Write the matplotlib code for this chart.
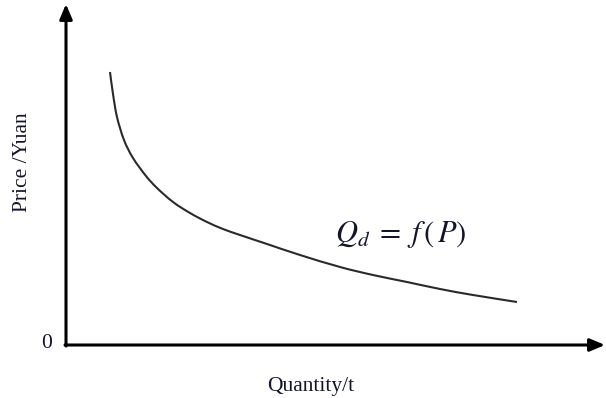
import matplotlib
matplotlib.use("Agg")
import matplotlib.pyplot as plt
from matplotlib.path import Path
from matplotlib.patches import PathPatch

# Demand curve: quantity vs price (arbitrary units, origin at 0)
quantity = [44, 47, 51, 58, 67, 80, 91, 107, 124, 141, 157, 174, 201, 234,
            274, 307, 341, 374, 407, 451]
price = [273, 251, 228, 205, 187, 169, 157, 143, 132, 123, 116, 110, 101, 90,
         78, 70, 63, 56, 50, 43]

x_label = "Quantity/t"
y_label = "Price /Yuan"
origin_label = "0"
curve_label = r"$Q_d\;=\;f\,\left(\,P\right)$"

plt.rcParams["font.family"] = ["Liberation Serif", "DejaVu Serif"]
plt.rcParams["mathtext.fontset"] = "stix"


def smooth_path(xs, ys, tension=1 / 6):
    """Catmull-Rom style cubic Bezier path through the given points."""
    pts = list(zip(xs, ys))
    verts = [pts[0]]
    codes = [Path.MOVETO]
    n = len(pts)
    for i in range(n - 1):
        p0 = pts[i - 1] if i > 0 else pts[i]
        p1 = pts[i]
        p2 = pts[i + 1]
        p3 = pts[i + 2] if i + 2 < n else pts[i + 1]
        c1 = (p1[0] + (p2[0] - p0[0]) * tension, p1[1] + (p2[1] - p0[1]) * tension)
        c2 = (p2[0] - (p3[0] - p1[0]) * tension, p2[1] - (p3[1] - p1[1]) * tension)
        verts += [c1, c2, p2]
        codes += [Path.CURVE4] * 3
    return Path(verts, codes)


fig = plt.figure(figsize=(6.06, 3.98), dpi=100)
ax = fig.add_axes([0, 0, 1, 1])
ax.set_xlim(-66, 540)
ax.set_ylim(-53, 345)
ax.axis("off")

text_color = "#15152a"

# Axes with arrowheads
arrow_kw = dict(arrowstyle="-|>,head_length=0.9,head_width=0.38",
                color="black", lw=2.2, shrinkA=0, shrinkB=0)
ax.annotate("", xy=(539, 0), xytext=(-1, 0), arrowprops=arrow_kw)
ax.annotate("", xy=(0, 341), xytext=(0, -1), arrowprops=arrow_kw)

# Demand curve
ax.add_patch(PathPatch(smooth_path(quantity, price), facecolor="none",
                       edgecolor="#2a2a2a", lw=1.5, capstyle="butt",
                       joinstyle="round"))

ax.text(335, 110, curve_label, fontsize=22, color=text_color,
        ha="center", va="center")
ax.text(-19, 2, origin_label, fontsize=15.5, color=text_color,
        ha="center", va="center")
ax.text(245, -42, x_label, fontsize=15.5, color=text_color,
        ha="center", va="center")
ax.text(-43, 183, y_label, fontsize=15.5, color=text_color,
        ha="center", va="center", rotation=90)

fig.savefig("out.png", dpi=100)
